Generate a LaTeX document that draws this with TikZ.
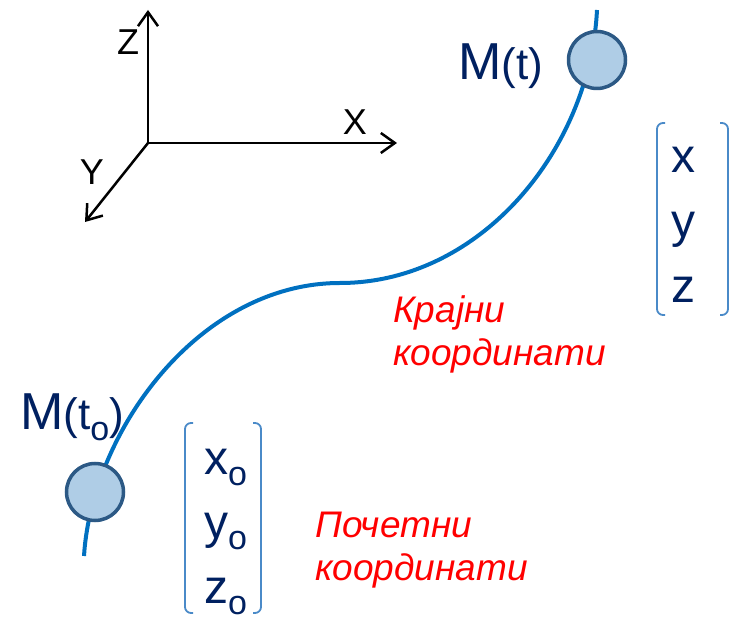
\documentclass[tikz,border=0pt]{standalone}
\usepackage{fontspec}
\setmainfont{Liberation Sans}
\usetikzlibrary{arrows.meta}
\definecolor{navy}{HTML}{002060}
\definecolor{curveblue}{HTML}{0070C0}
\definecolor{ptfill}{HTML}{AFCDE6}
\definecolor{ptedge}{HTML}{2C5985}
\definecolor{brk}{HTML}{4A8AC8}
\newcommand{\lowo}{\raisebox{-11pt}{\fontsize{34}{34}\selectfont o}}
\tikzset{
	axis/.style={line width=2.5pt, -{Straight Barb[length=14pt,width=20pt]}},
	axlabel/.style={inner sep=0pt, font=\fontsize{36}{36}\selectfont},
	point/.style={circle, draw=ptedge, fill=ptfill, line width=3.5pt, minimum size=57pt, inner sep=0pt},
	traj/.style={curveblue, line width=4pt},
	tag/.style={text=navy, inner sep=0pt, font=\fontsize{48}{48}\selectfont},
	bracket/.style={brk, line width=1.8pt, rounded corners=6pt},
	note/.style={text=red, inner sep=0pt, align=left, font=\itshape\fontsize{37}{43}\selectfont}
}
\begin{document}
\begin{tikzpicture}[x=1pt, y=-1pt]
	\useasboundingbox (0,0) rectangle (737,617);
	% axes
	\coordinate (O) at (148,143);
	\coordinate (zend) at (148,10);
	\coordinate (xend) at (397,143);
	\coordinate (yend) at (85,222);
	\draw[axis] (O) -- (zend);
	\draw[axis] (O) -- (xend);
	\draw[axis] (O) -- (yend);
	\node[axlabel] (zlab) at (128,42) {Z};
	\node[axlabel] (xlab) at (355,122) {X};
	\node[axlabel] (ylab) at (92,172) {Y};
	
	% trajectory
	\coordinate (start) at (84,556);
	\coordinate (mid) at (340,283);
	\coordinate (stop) at (597,10);
	\draw[traj] (start) .. controls (92,430) and (200,283) .. (mid)
		.. controls (480,283) and (590,150) .. (stop);
	\node[point] (Mt0) at (95,492) {};
	\node[point] (Mt) at (597,60) {};
	\node[text=navy, inner sep=0pt, anchor=base west, font=\fontsize{52}{52}\selectfont] (labMt)
		at (458,80) {M{\fontsize{44}{44}\selectfont(t)}};
	\node[text=navy, inner sep=0pt, anchor=base west, font=\fontsize{52}{52}\selectfont] (labMt0)
		at (20,430) {M{\fontsize{44}{44}\selectfont(t\lowo)}};
	
	% end coordinates
	\draw[bracket] (665,123) -- (657,123) -- (657,315) -- (665,315);
	\draw[bracket] (720,123) -- (728,123) -- (728,315) -- (720,315);
	\foreach \c [count=\i] in {x,y,z}
		\node[tag, anchor=base] (e\c) at (683,173+65*\i-65) {\c};
	
	% start coordinates
	\draw[bracket] (193,423) -- (185,423) -- (185,613) -- (193,613);
	\draw[bracket] (253,423) -- (261,423) -- (261,613) -- (253,613);
	\foreach \c [count=\i] in {x,y,z}
		\node[tag, anchor=base west] (s\c) at (204,475+64*\i-64) {\c\lowo};
	
	\node[note, anchor=base west] (endnote) at (393,366) {Крајни\\координати};
	\node[note, anchor=base west] (startnote) at (315,580) {Почетни\\координати};
\end{tikzpicture}
\end{document}
